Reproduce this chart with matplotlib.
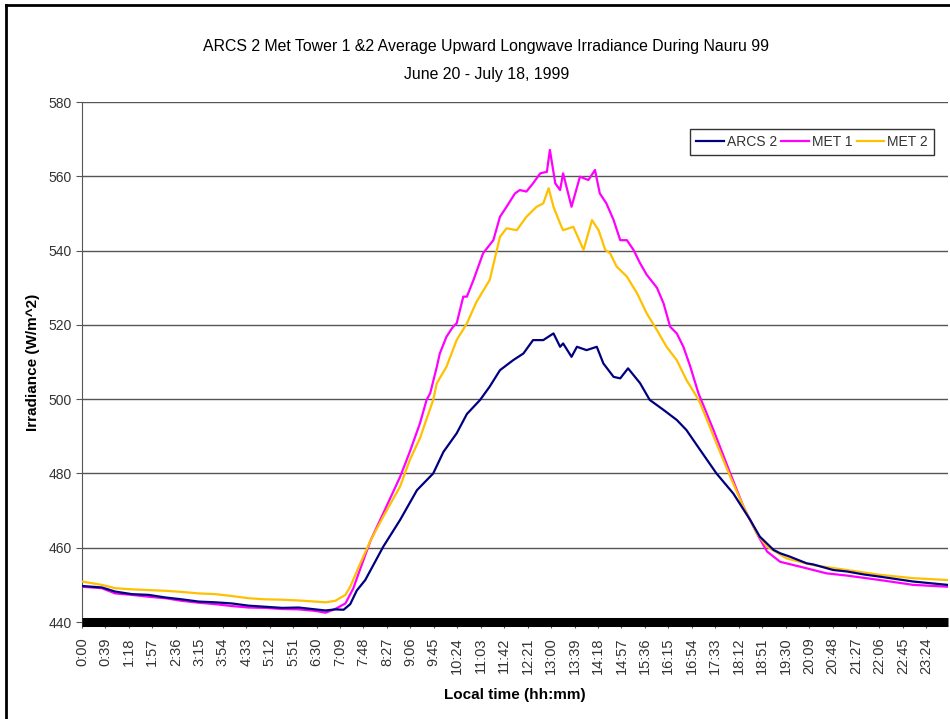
import matplotlib
matplotlib.use("Agg")
import matplotlib.pyplot as plt
from matplotlib.lines import Line2D

plt.rcParams['font.family'] = ['Liberation Sans', 'DejaVu Sans']

# minutes after midnight (W/m^2)
arcs_t = [0, 33, 55, 83, 111, 139, 166, 194, 222, 249, 277, 305, 333, 360, 388, 405,
          421, 435, 446, 457, 471, 501, 529, 557, 584, 601, 623, 640, 662, 678, 695,
          717, 734, 750, 767, 784, 795, 800, 814, 823, 839, 856, 867, 884, 895, 908,
          928, 944, 967, 989, 1005, 1028, 1055, 1083, 1111, 1127, 1150, 1161, 1177,
          1205, 1216, 1249, 1272, 1300, 1327, 1382, 1439]
arcs_v = [449.7, 449.3, 448.2, 447.5, 447.3, 446.6, 446.1, 445.5, 445.3, 445.0, 444.4,
          444.1, 443.8, 443.9, 443.4, 443.1, 443.4, 443.3, 444.8, 448.5, 451.3, 460.3,
          467.5, 475.5, 480.0, 485.8, 490.8, 496.0, 499.8, 503.4, 507.8, 510.5, 512.3,
          515.9, 515.9, 517.7, 514.1, 515.0, 511.4, 514.1, 513.2, 514.1, 509.6, 506.0,
          505.6, 508.3, 504.3, 499.8, 497.1, 494.4, 491.7, 486.3, 480.0, 474.6, 467.5,
          463.0, 459.4, 458.5, 457.6, 455.8, 455.5, 454.0, 453.6, 452.8, 452.2, 450.9,
          450.0]

met1_t = [0, 33, 55, 83, 111, 139, 166, 194, 222, 249, 277, 305, 333, 360, 388, 405,
          421, 438, 451, 462, 480, 501, 529, 545, 562, 573, 579, 590, 595, 606, 617,
          623, 634, 640, 651, 667, 684, 695, 706, 720, 728, 739, 750, 762, 773, 778,
          787, 795, 800, 814, 828, 842, 853, 861, 872, 884, 895, 906, 917, 928, 939,
          956, 967, 978, 989, 1000, 1011, 1025, 1050, 1078, 1100, 1122, 1139, 1161,
          1194, 1216, 1238, 1272, 1327, 1382, 1439]
met1_v = [449.5, 449.1, 447.7, 447.3, 446.8, 446.4, 445.7, 445.2, 444.8, 444.3, 443.9,
          443.8, 443.5, 443.4, 443.0, 442.5, 443.5, 445.0, 449.0, 454.0, 462.0, 469.3,
          479.1, 485.8, 493.5, 499.8, 501.6, 508.7, 512.3, 516.8, 519.5, 520.4, 527.6,
          527.6, 532.1, 539.3, 542.8, 549.1, 551.8, 555.4, 556.3, 555.9, 558.1, 560.8,
          561.2, 567.1, 558.1, 556.3, 560.8, 551.8, 559.9, 559.0, 561.7, 555.4, 552.7,
          548.2, 542.8, 542.8, 540.2, 536.6, 533.5, 530.0, 525.8, 519.5, 517.7, 514.1,
          509.0, 501.6, 491.7, 480.0, 471.0, 463.9, 459.0, 456.2, 454.9, 454.0, 453.1,
          452.5, 451.3, 450.0, 449.5]

met2_t = [0, 33, 55, 83, 111, 139, 166, 194, 222, 249, 277, 305, 333, 360, 388, 405,
          421, 438, 446, 462, 480, 501, 529, 545, 562, 584, 590, 606, 623, 640, 656,
          678, 695, 706, 723, 739, 756, 767, 776, 784, 795, 800, 817, 834, 848, 859,
          870, 878, 889, 906, 923, 939, 956, 972, 989, 1005, 1022, 1028, 1055, 1078,
          1100, 1122, 1139, 1172, 1216, 1272, 1327, 1382, 1439]
met2_v = [450.9, 450.0, 449.1, 448.8, 448.6, 448.4, 448.1, 447.7, 447.5, 447.0, 446.4,
          446.1, 446.0, 445.8, 445.5, 445.3, 445.7, 447.3, 449.5, 455.5, 462.0, 468.4,
          476.5, 483.6, 489.5, 499.8, 504.3, 508.7, 515.9, 520.4, 526.2, 532.1, 543.7,
          546.0, 545.5, 549.1, 551.8, 552.7, 556.8, 551.8, 547.3, 545.5, 546.4, 540.2,
          548.2, 545.5, 540.2, 539.3, 535.7, 533.0, 528.5, 523.1, 518.6, 514.1, 510.5,
          505.2, 500.7, 498.9, 488.1, 479.1, 471.0, 463.9, 460.3, 457.1, 455.3, 454.0,
          452.7, 451.8, 451.3]

tick_minutes = list(range(0, 1440, 39))
tick_labels = ["%d:%02d" % (m // 60, m % 60) for m in tick_minutes]

fig = plt.figure(figsize=(9.5, 7.19), dpi=100)
ax = fig.add_axes([0.0863, 0.1349, 0.9116, 0.7232])

ax.plot(met1_t, met1_v, color='#FF00FF', lw=1.6, label='MET 1', zorder=3)
ax.plot(met2_t, met2_v, color='#FFC000', lw=1.6, label='MET 2', zorder=3)
ax.plot(arcs_t, arcs_v, color='#000080', lw=1.6, label='ARCS 2', zorder=4)

ax.set_xlim(0, 1440)
ax.set_ylim(440, 580)
ax.set_yticks(range(440, 581, 20))
ax.set_xticks(tick_minutes)
ax.set_xticklabels(tick_labels, rotation=90)
ax.tick_params(axis='both', labelsize=10, labelcolor='#333333', length=4, color='#555555')
ax.tick_params(axis='x', labelsize=10.5, pad=7)
ax.grid(axis='y', color='#555555', lw=1)
ax.set_axisbelow(True)

for s in ['top', 'right']:
    ax.spines[s].set_visible(False)
ax.spines['left'].set_color('#555555')
ax.spines['bottom'].set_color('black')
ax.spines['bottom'].set_linewidth(6.5)
ax.spines['bottom'].set_capstyle('butt')
ax.spines['bottom'].set_zorder(5)

ax.set_ylabel('Irradiance (W/m^2)', fontsize=11, fontweight='bold', labelpad=6)
ax.set_xlabel('Local time (hh:mm)', fontsize=11, fontweight='bold', labelpad=10)

fig.text(0.512, 0.935, 'ARCS 2 Met Tower 1 &2 Average Upward Longwave Irradiance During Nauru 99',
         ha='center', va='center', fontsize=11.4)
fig.text(0.512, 0.896, 'June 20 - July 18, 1999', ha='center', va='center', fontsize=11.4)

h, l = ax.get_legend_handles_labels()
order = [2, 0, 1]
leg = ax.legend([h[i] for i in order], [l[i] for i in order], ncol=3, loc='upper right',
                bbox_to_anchor=(0.992, 0.962), fontsize=10, frameon=True, fancybox=False,
                handlelength=2.0, handletextpad=0.2, columnspacing=0.3,
                borderpad=0.45, edgecolor='black')
leg.get_frame().set_linewidth(1)
for t in leg.get_texts():
    t.set_color('#333333')

# outer chart frame
fig.add_artist(Line2D([0.006, 0.006], [0.0, 0.993], color='black', lw=2, transform=fig.transFigure))
fig.add_artist(Line2D([0.006, 1.0], [0.993, 0.993], color='black', lw=2, transform=fig.transFigure))

fig.savefig('out.png', dpi=100)
